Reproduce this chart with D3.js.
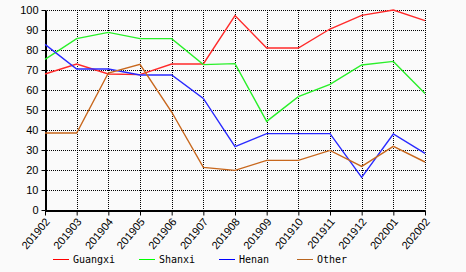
<!DOCTYPE html>
<html>
<head>
<meta charset="utf-8">
<script src="https://cdn.jsdelivr.net/npm/d3@7/dist/d3.min.js"></script>
<style>
  body { margin: 0; background: #fafafa; }
  svg { display: block; }
</style>
</head>
<body>
<svg id="chart"></svg>
<script>
// data
var months = ["201902","201903","201904","201905","201906","201907","201908",
              "201909","201910","201911","201912","202001","202002"];
var guangxi = [68, 73, 68, 67.7, 73, 73, 97.2, 81, 81, 90.5, 97.3, 100, 94.7];
var shanxi  = [75.3, 85.7, 88.8, 85.7, 85.7, 72.7, 73.2, 44.3, 56.7, 62.8, 72.5, 74.3, 58.3];
var henan   = [82.8, 70.5, 70.5, 67.5, 67.5, 55.8, 31.7, 38.2, 38.2, 38.2, 16.3, 38, 28.3];
var other   = [38.5, 38.5, 68.5, 72.8, 49, 21.3, 19.8, 24.8, 24.8, 29.8, 21.8, 31.8, 24];
var yTicks  = [0, 10, 20, 30, 40, 50, 60, 70, 80, 90, 100];

var series = [
  {name: "Guangxi", values: guangxi, color: "#ff2a2a", legend: "#ff0000"},
  {name: "Shanxi",  values: shanxi,  color: "#2af02a", legend: "#00ff00"},
  {name: "Henan",   values: henan,   color: "#2a2aff", legend: "#0000ff"},
  {name: "Other",   values: other,   color: "#c8681e", legend: "#b8651f"}
];

var width = 466, height = 272;
// note: "top" is taken by window.top, so plot edges get their own names
var plotLeft = 45, plotRight = 425, plotTop = 10, plotBottom = 210;

var svg = d3.select("#chart")
    .attr("width", width)
    .attr("height", height);

var x = d3.scalePoint().domain(months).range([plotLeft, plotRight]);
var y = d3.scaleLinear().domain([0, 100]).range([plotBottom, plotTop]);

// dotted grid
var grid = svg.append("g").attr("class", "grid")
    .attr("stroke", "#000")
    .attr("stroke-width", 1)
    .attr("stroke-dasharray", "1,1")
    .attr("shape-rendering", "crispEdges");

grid.selectAll(".h").data(yTicks.filter(function(d){ return d > 0; }))
  .enter().append("line")
    .attr("x1", plotLeft).attr("x2", plotRight)
    .attr("y1", function(d){ return Math.round(y(d)) + 0.5; })
    .attr("y2", function(d){ return Math.round(y(d)) + 0.5; });

grid.selectAll(".v").data(months.slice(1))
  .enter().append("line")
    .attr("x1", function(d){ return Math.round(x(d)) + 0.5; })
    .attr("x2", function(d){ return Math.round(x(d)) + 0.5; })
    .attr("y1", plotTop).attr("y2", plotBottom);

// axes
var yAxis = svg.append("g")
    .attr("transform", "translate(" + (plotLeft + 0.5) + ",0)")
    .call(d3.axisLeft(y).tickValues(yTicks).tickSize(4).tickSizeOuter(0));
yAxis.select(".domain").attr("stroke-width", 2);
yAxis.selectAll("text")
    .style("font-family", "Liberation Sans, Arial, sans-serif")
    .style("font-size", "11px")
    .attr("fill", "#000")
    .attr("x", -7);

var xAxis = svg.append("g")
    .attr("transform", "translate(0," + (plotBottom + 0.5) + ")")
    .call(d3.axisBottom(x).tickSize(5).tickSizeOuter(0));
xAxis.select(".domain").attr("stroke-width", 2);
xAxis.selectAll("text")
    .style("font-family", "Liberation Sans, Arial, sans-serif")
    .style("font-size", "11px")
    .attr("fill", "#000")
    .attr("text-anchor", "end")
    .attr("y", 0)
    .attr("dy", "0.35em")
    .attr("transform", "translate(2,9) rotate(-50)");

// lines
var line = d3.line()
    .x(function(d, i){ return x(months[i]); })
    .y(function(d){ return y(d); });

svg.selectAll(".series").data(series)
  .enter().append("path")
    .attr("class", "series")
    .attr("fill", "none")
    .attr("stroke", function(d){ return d.color; })
    .attr("stroke-width", 1.4)
    .attr("d", function(d){ return line(d.values); });

// legend
var legendX = [53, 139, 219, 297];
var legend = svg.selectAll(".legend").data(series)
  .enter().append("g")
    .attr("class", "legend")
    .attr("transform", function(d, i){ return "translate(" + legendX[i] + ",259)"; });

legend.append("line")
    .attr("x1", 0).attr("x2", 16)
    .attr("y1", 0.5).attr("y2", 0.5)
    .attr("shape-rendering", "crispEdges")
    .attr("stroke", function(d){ return d.legend; });

legend.append("text")
    .attr("x", 20)
    .attr("y", 4)
    .style("font-family", "DejaVu Sans Mono, monospace")
    .style("font-size", "10px")
    .text(function(d){ return d.name; });
</script>
</body>
</html>
